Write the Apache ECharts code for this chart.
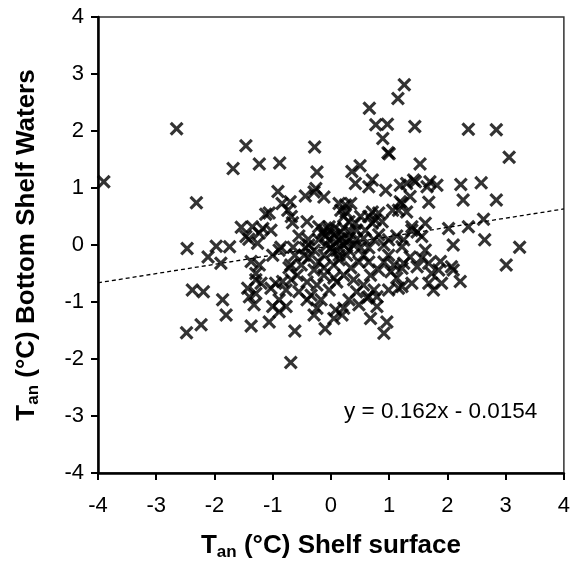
<!DOCTYPE html>
<html>
<head>
<meta charset="utf-8">
<script src="https://cdn.jsdelivr.net/npm/echarts@6/dist/echarts.min.js"></script>
<style>
  html, body { margin: 0; padding: 0; background: #fff; }
  #chart { width: 573px; height: 575px; }
</style>
</head>
<body>
<div id="chart"></div>
<script>
// anomaly pairs: shelf surface (x) vs bottom shelf waters (y)
var surfaceAnom = [
    -3.90, -2.65, -1.46, -1.68, -1.23, -0.88, -0.28, -0.24, -2.31, -0.91,
    -0.26, -0.44, -0.12, -0.29, -0.84, -0.70, -0.74, -0.68, -0.66, -1.12,
    -1.06, -1.54, -1.35, -1.17, -1.03, -1.41, -1.26, -0.41, -0.39, -0.21,
    -0.12, -2.47, -1.97, -1.74, -0.86, -0.65, -0.38, 1.26, 1.15, 0.66,
    0.77, 0.97, 1.44, 2.36, 2.84, 3.06, 0.89, 0.98, 1.00, 1.53,
    0.50, 0.36, 0.71, 0.42, 0.65, 0.94, 1.19, 1.30, 1.45, 1.70,
    1.82, 1.65, 2.23, 2.58, 2.27, 2.84, 1.68, 1.36, 1.22, 1.16,
    1.30, 1.06, 0.14, 0.25, 0.17, 0.71, 0.82, 0.76, 1.39, 1.48,
    1.62, 1.56, 2.02, 2.36, 2.62, 2.10, 2.64, 3.24, 0.34, 0.26,
    0.22, -0.15, -0.03, 0.65, 0.51, 0.31, 0.42, 0.71, 0.88, 0.59,
    1.42, 1.19, 1.39, -2.11, -1.89, -2.38, -2.19, -1.86, -1.80, -2.48,
    -2.23, -1.37, -1.06, -0.89, -0.69, -1.43, -1.29, -1.20, -1.40, -1.29,
    -1.32, -1.03, -0.95, -0.83, -0.77, -0.89, -1.00, -0.77, -0.69, -1.37,
    -1.23, -1.29, -0.89, -1.00, -1.46, -1.23, -0.62, -0.10, -0.29, 0.68,
    0.96, 0.91, 0.05, 0.19, 0.08, 0.79, 0.65, 0.79, 0.99, 1.16,
    3.01, 1.22, 1.62, 1.36, 1.56, 1.25, 1.22, 1.48, 1.68, 1.88,
    2.07, 2.10, 1.85, 1.73, 1.22, 1.39, 1.68, 1.76, 1.90, 2.22,
    -0.55, -0.46, -0.38, -0.51, -0.58, -0.41, -0.29, -0.21, -0.12, -0.03,
    0.05, 0.14, 0.22, 0.10, 0.00, -0.07, 0.17, 0.31, 0.39, 0.27,
    0.14, 0.05, -0.12, -0.24, -0.34, -0.17, -0.03, 0.10, 0.22, 0.34,
    0.48, 0.56, 0.65, 0.74, 0.82, 0.91, 0.99, 1.08, 0.82, 0.68,
    0.56, 0.44, 0.31, 0.22, 0.48, 0.62, 0.39, -0.21, -0.29, 0.22,
    0.44, 0.56, -0.03, 0.14, 0.31, 0.51, -0.12, 0.05, -0.55, -0.68,
    -0.62, -0.72, 0.91, 1.03, 1.13, 0.74, 0.99, 1.13, 1.25, 0.65,
    -0.24, -0.41, -0.44, 0.09, 0.19, 0.27, 0.03, 0.34, -0.09, 0.43,
    0.07
];
var bottomAnom = [
    1.11, 2.04, 1.74, 1.34, 1.42, 1.44, 1.72, 1.28, 0.74, 0.94,
    0.99, 0.86, 0.84, 0.93, 0.73, 0.76, 0.61, 0.50, 0.39, 0.54,
    0.56, 0.31, 0.32, 0.29, 0.26, 0.10, 0.03, 0.41, 0.10, 0.32,
    0.26, -0.06, -0.02, -0.03, -0.04, -0.04, 0.00, 2.81, 2.57, 2.40,
    2.11, 2.12, 2.08, 2.03, 2.02, 1.54, 1.87, 1.62, 1.60, 1.42,
    1.39, 1.29, 1.14, 1.08, 1.02, 0.96, 1.05, 1.08, 1.11, 1.11,
    1.05, 1.02, 1.06, 1.09, 0.79, 0.79, 0.75, 0.85, 0.73, 0.61,
    0.58, 0.61, 0.73, 0.70, 0.61, 0.58, 0.56, 0.44, 0.32, 0.23,
    0.38, 0.15, 0.29, 0.32, 0.45, 0.00, 0.09, -0.04, 0.73, 0.58,
    0.50, 0.21, 0.32, 0.50, 0.50, 0.41, 0.38, 0.38, 0.41, 0.26,
    1.14, 0.76, 0.26, -0.21, -0.32, -0.79, -0.82, -0.96, -1.23, -1.54,
    -1.40, -1.42, -1.35, -1.17, -2.06, -0.76, -0.61, -0.67, -0.91, -0.85,
    -1.05, -0.76, -0.67, -0.64, -0.79, -0.96, -1.08, -1.08, -0.35, -0.29,
    -0.35, -0.50, -0.09, -0.18, 0.15, 0.21, -1.51, -1.47, -1.23, -1.29,
    -1.35, -1.55, -1.29, -1.23, -1.14, -1.08, -0.91, -0.91, -0.79, -0.76,
    -0.35, -0.03, -0.09, -0.21, -0.23, -0.32, -0.41, -0.38, -0.32, -0.29,
    -0.38, -0.44, -0.44, -0.50, -0.73, -0.67, -0.67, -0.79, -0.67, -0.64,
    0.16, -0.18, -0.23, -0.35, -0.53, -0.65, -0.44, -0.30, -0.18, 0.09,
    0.18, 0.09, 0.00, -0.09, -0.05, 0.00, 0.23, 0.12, 0.00, -0.18,
    -0.26, -0.35, -0.53, -0.70, -0.88, -0.96, -0.79, -0.65, -0.53, -0.40,
    -0.30, -0.18, -0.05, 0.09, 0.18, 0.00, -0.18, -0.35, -0.44, -0.53,
    -0.70, -0.82, -0.96, -1.11, -1.05, -0.93, -0.61, 0.09, -0.09, 0.30,
    0.26, 0.12, 0.26, -0.18, -0.09, -0.05, -0.40, -0.58, -0.82, -0.61,
    -0.18, -0.40, -0.30, -0.47, -0.58, -0.79, 0.09, 0.16, 0.09, -0.30,
    -1.11, -0.96, -0.05, 0.05, 0.12, 0.04, -0.12, 0.23, 0.16, 0.09,
    0.30
];
var axisTicks = [-4, -3, -2, -1, 0, 1, 2, 3, 4];
// linear fit printed on the chart
var fitSlope = 0.162;
var fitIntercept = -0.0154;

var pts = [];
for (var i = 0; i < surfaceAnom.length; i++) {
    pts.push([surfaceAnom[i], bottomAnom[i]]);
}
var xLo = axisTicks[0], xHi = axisTicks[axisTicks.length - 1];
var fitLine = [
    [xLo, fitSlope * xLo + fitIntercept],
    [xHi, fitSlope * xHi + fitIntercept]
];

var FONT = 'Arial, "Liberation Sans", sans-serif';
var crossPath = 'path://M0,1.6L1.6,0L5,3.4L8.4,0L10,1.6L6.6,5L10,8.4L8.4,10L5,6.6L1.6,10L0,8.4L3.4,5Z';

var titleRich = {
    b: { fontFamily: FONT, fontWeight: 'bold', fontSize: 26, color: '#000', lineHeight: 34 },
    s: { fontFamily: FONT, fontWeight: 'bold', fontSize: 17, color: '#000', lineHeight: 34, padding: [13, 0, 0, 0] }
};

function axisCommon() {
    return {
        type: 'value',
        min: xLo,
        max: xHi,
        interval: 1,
        nameLocation: 'middle',
        axisLine: { show: true, onZero: false, lineStyle: { color: '#000', width: 2.5 } },
        axisTick: { show: true, inside: false, length: 7, lineStyle: { color: '#000', width: 2 } },
        axisLabel: { color: '#000', fontSize: 22, fontFamily: FONT },
        splitLine: { show: false },
        nameTextStyle: { rich: titleRich }
    };
}

var xAx = axisCommon();
xAx.name = '{b|T}{s|an}{b| (°C) Shelf surface}';
xAx.nameGap = 56;
xAx.axisLabel.margin = 22;

var yAx = axisCommon();
yAx.name = '{b|T}{s|an}{b| (°C) Bottom Shelf Waters}';
yAx.nameGap = 54;
yAx.nameRotate = 90;
yAx.axisLabel.margin = 14;

var chart = echarts.init(document.getElementById('chart'));
chart.setOption({
    animation: false,
    backgroundColor: '#fff',
    grid: {
        left: 98, right: 7, top: 17, bottom: 102,
        show: true, borderColor: '#333', borderWidth: 1.5
    },
    xAxis: xAx,
    yAxis: yAx,
    series: [
        {
            type: 'line',
            data: fitLine,
            symbol: 'none',
            silent: true,
            lineStyle: { color: '#000', width: 1.3, type: [4, 3] },
            z: 3
        },
        {
            type: 'scatter',
            data: pts,
            symbol: crossPath,
            symbolSize: 14,
            itemStyle: { color: '#000' },
            z: 2
        }
    ],
    graphic: [
        {
            type: 'text',
            x: 344,
            y: 412,
            style: {
                text: 'y = 0.162x - 0.0154',
                fontFamily: FONT,
                fontSize: 22.5,
                fill: '#000',
                verticalAlign: 'middle'
            }
        }
    ]
});
</script>
</body>
</html>
